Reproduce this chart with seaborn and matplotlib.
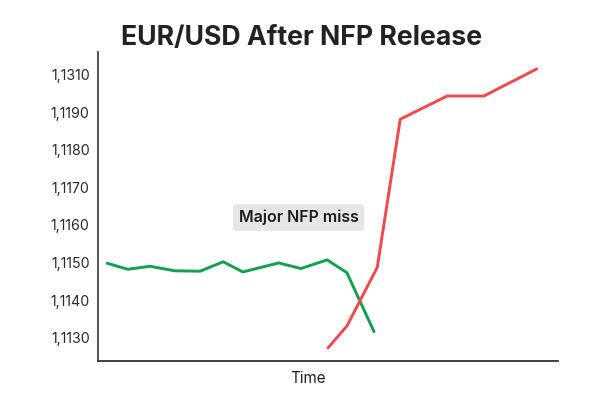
import matplotlib
matplotlib.use("Agg")
import matplotlib.pyplot as plt
import pandas as pd
import seaborn as sns

# Data
green_time = [2, 6.5, 11.3, 16.7, 22.2, 27.2, 31.5, 39.3, 44.1, 49.8, 54.1, 60.0]
green_price = [1.11498, 1.11482, 1.11490, 1.11478, 1.11477, 1.11502, 1.11475,
               1.11499, 1.11484, 1.11507, 1.11473, 1.11316]
red_time = [50.0, 54.1, 60.7, 65.7, 75.9, 83.9, 95.4]
red_price = [1.11273, 1.11331, 1.11487, 1.11881, 1.11943, 1.11943, 1.12015]
ytick_values = [1.1130, 1.1140, 1.1150, 1.1160, 1.1170, 1.1180, 1.1190, 1.1200]
ytick_labels = ["1,1130", "1,1140", "1,1150", "1,1160", "1,1170", "1,1180", "1,1190", "1,1310"]

GREEN = "#10a050"
RED = "#f5484a"

sns.set_style("white")
plt.rcParams['font.family'] = ['Inter', 'DejaVu Sans']

df = pd.concat([
    pd.DataFrame({'time': green_time, 'price': green_price, 'series': 'before'}),
    pd.DataFrame({'time': red_time, 'price': red_price, 'series': 'after'}),
])

fig = plt.figure(figsize=(6.11, 3.95), dpi=100)
ax = fig.add_axes([0.1604, 0.0873, 0.7529, 0.7817])

sns.lineplot(data=df, x='time', y='price', hue='series', palette={'before': GREEN, 'after': RED},
             linewidth=2.1, legend=False, sort=False, estimator=None, ax=ax)

ax.set_xlim(0, 100)
ax.set_ylim(1.112394, 1.120606)
ax.set_yticks(ytick_values)
ax.set_yticklabels(ytick_labels, fontsize=10.2, color="#2a2a2a")
ax.set_xticks([])
ax.tick_params(axis='y', length=0, pad=6)
ax.set_ylabel("")
ax.set_xlabel("Time", fontsize=11, color="#222222")
ax.xaxis.set_label_coords(0.457, -0.035)

sns.despine(ax=ax)
ax.spines['left'].set_color("#444444")
ax.spines['bottom'].set_color("#333333")
ax.spines['left'].set_linewidth(1.3)
ax.spines['bottom'].set_linewidth(1.3)

ax.text(43.6, 1.116197, "Major NFP miss", ha='center', va='center', fontsize=11.5,
        fontweight='semibold', color="#1e1e1e",
        bbox=dict(boxstyle="round,pad=0.35,rounding_size=0.2", facecolor="#e6e6e6", edgecolor="none"))

fig.text(0.494, 0.886, "EUR/USD After NFP Release", ha='center', va='baseline',
         fontsize=19.2, fontweight='bold', color="#222222")

plt.savefig("out.png", dpi=100)
plt.close()
